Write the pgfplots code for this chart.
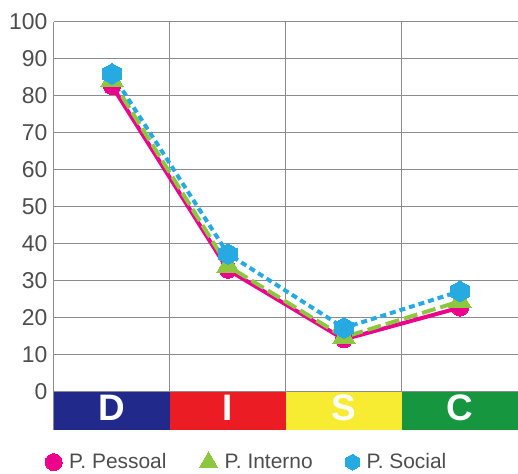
\documentclass[border=0pt]{standalone}
\usepackage{fontspec}
\setmainfont{Liberation Sans}
\usepackage{pgfplots}
\pgfplotsset{compat=1.18}
\definecolor{cpink}{HTML}{EC008C}
\definecolor{cgreen}{HTML}{8DC63F}
\definecolor{cblue}{HTML}{27AAE1}
\definecolor{bandD}{HTML}{21298A}
\definecolor{bandI}{HTML}{EC1C24}
\definecolor{bandS}{HTML}{F7EC31}
\definecolor{bandC}{HTML}{16963F}
\definecolor{labelgray}{HTML}{4D4D4D}
\definecolor{gridgray}{HTML}{8C8C8C}
\pgfdeclareplotmark{hexagon*}{%
  \pgfpathmoveto{\pgfqpointpolar{90}{\pgfplotmarksize}}%
  \pgfpathlineto{\pgfqpointpolar{150}{\pgfplotmarksize}}%
  \pgfpathlineto{\pgfqpointpolar{210}{\pgfplotmarksize}}%
  \pgfpathlineto{\pgfqpointpolar{270}{\pgfplotmarksize}}%
  \pgfpathlineto{\pgfqpointpolar{330}{\pgfplotmarksize}}%
  \pgfpathlineto{\pgfqpointpolar{30}{\pgfplotmarksize}}%
  \pgfpathclose\pgfusepathqfillstroke}
\begin{document}
\begin{tikzpicture}
\path[use as bounding box] (-54bp,-44bp) rectangle (464bp,430bp);
\begin{axis}[
  at={(0,0)}, anchor=south west,
  scale only axis, width=464bp, height=408bp,
  xmin=0.5, xmax=4.5, ymin=-10.3, ymax=100,
  axis line style={draw=none},
  major tick length=0pt,
  xtick={0.5,1.5,2.5,3.5}, xticklabels={},
  ytick={0,10,...,100},
  grid=major,
  grid style={gridgray, line width=1bp},
  /pgf/number format/assume math mode=true,
  yticklabel style={font=\fontsize{23}{23}\selectfont, text=labelgray, xshift=-3bp},
  clip=false,
  legend columns=3,
  legend style={at={(axis description cs:0,0)}, anchor=west, xshift=-12bp, yshift=-32bp,
    draw=none, fill=none, font=\fontsize{21}{21}\selectfont, text=labelgray,
    /tikz/every odd column/.append style={column sep=5bp},
    /tikz/every even column/.append style={column sep=31bp}},
  legend image code/.code={\draw[#1] plot coordinates {(0bp,0bp)};},
]
\fill[bandD] (axis cs:0.5,-10.3) rectangle (axis cs:1.5,0);
\fill[bandI] (axis cs:1.5,-10.3) rectangle (axis cs:2.5,0);
\fill[bandS] (axis cs:2.5,-10.3) rectangle (axis cs:3.5,0);
\fill[bandC] (axis cs:3.5,-10.3) rectangle (axis cs:4.5,0);
\draw[gridgray, line width=1bp] (axis cs:0.5,0) -- (axis cs:4.5,0);
\node[text=white, font=\fontsize{37}{37}\selectfont\bfseries] at (axis cs:1,-4.4) {D};
\node[text=white, font=\fontsize{37}{37}\selectfont\bfseries] at (axis cs:2,-4.4) {I};
\node[text=white, font=\fontsize{37}{37}\selectfont\bfseries] at (axis cs:3,-4.4) {S};
\node[text=white, font=\fontsize{37}{37}\selectfont\bfseries] at (axis cs:4,-4.4) {C};

\addplot[cpink, line width=4bp, mark=*, mark size=8.5bp, mark options={solid, fill=cpink, draw=cpink, line width=0pt},
  legend image post style={mark size=8.5bp}]
  coordinates {(1,82.7) (2,33) (3,14.2) (4,22.8)};
\addlegendentry{P. Pessoal}
\addplot[cgreen, line width=4bp, dash pattern=on 14bp off 5bp, mark=triangle*, mark size=13bp, mark options={solid, fill=cgreen, draw=cgreen, line width=0pt},
  legend image post style={mark size=10.5bp}]
  coordinates {(1,84.3) (2,34) (3,14.8) (4,24.5)};
\addlegendentry{P. Interno}
\addplot[cblue, line width=4bp, dash pattern=on 6bp off 4bp, mark=hexagon*, mark size=10.5bp, mark options={solid, fill=cblue, draw=cblue, line width=0pt},
  legend image post style={mark size=8bp}]
  coordinates {(1,86) (2,37.3) (3,17.3) (4,27.2)};
\addlegendentry{P. Social}
\end{axis}
\end{tikzpicture}
\end{document}
